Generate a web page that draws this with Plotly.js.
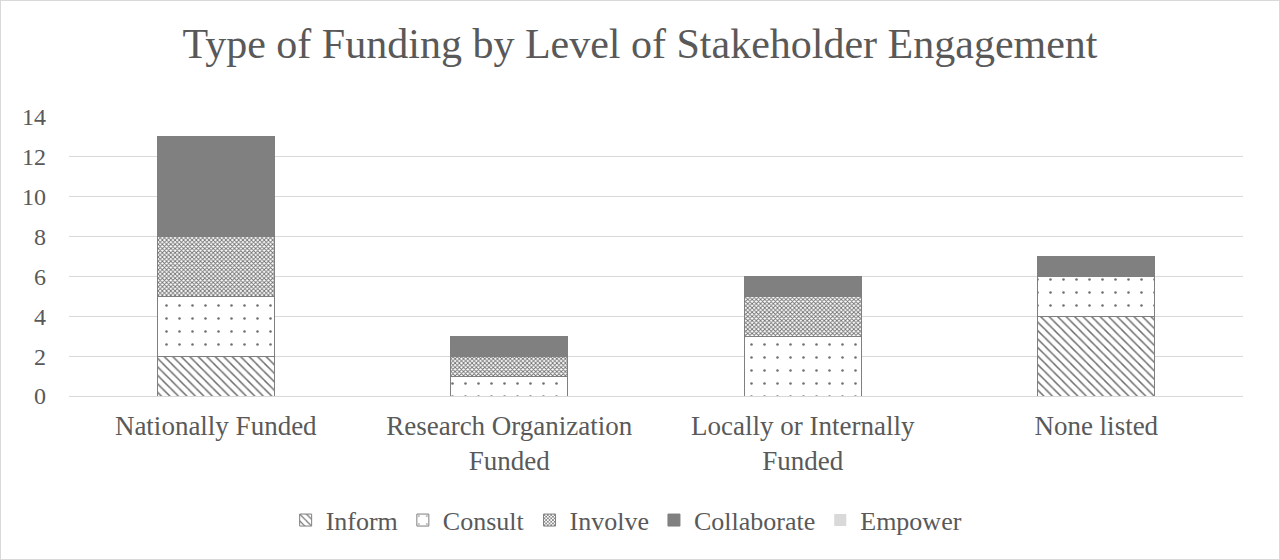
<!DOCTYPE html>
<html>
<head>
<meta charset="utf-8">
<script src="https://cdn.plot.ly/plotly-3.0.1.min.js"></script>
<style>
  body { margin: 0; background: #fff; }
  #chart { width: 1280px; height: 560px; box-sizing: border-box; border: 1px solid #d9d9d9; }
</style>
</head>
<body>
<div id="chart"></div>
<script>
// funding types along the x axis
const categories = ["Nationally Funded", "Research Organization<br>Funded", "Locally or Internally<br>Funded", "None listed"];

// counts per level of engagement
const inform = [2, 0, 0, 4];
const consult = [3, 1, 3, 2];
const involve = [3, 1, 2, 0];
const collaborate = [5, 1, 1, 1];
const empower = [0, 0, 0, 0];

const yTicks = [0, 2, 4, 6, 8, 10, 12, 14];

const edge = { color: "#7f7f7f", width: 1 };

function series(name, vals, marker) {
  return {
    type: "bar",
    name: name,
    x: categories,
    y: vals,
    width: 0.4,
    marker: Object.assign({ line: edge }, marker),
    hoverinfo: "y+name",
  };
}

const data = [
  series("Inform", inform, {
    color: "#ffffff",
    pattern: { shape: "\\", fgcolor: "#6f6f6f", bgcolor: "#ffffff", size: 6, solidity: 0.25 },
  }),
  series("Consult", consult, {
    color: "#ffffff",
    pattern: { shape: ".", fgcolor: "#6f6f6f", bgcolor: "#ffffff", size: 13, solidity: 0.03 },
  }),
  series("Involve", involve, {
    color: "#ffffff",
    pattern: { shape: "x", fgcolor: "#6f6f6f", bgcolor: "#ffffff", size: 3, solidity: 0.5 },
  }),
  series("Collaborate", collaborate, { color: "#808080" }),
  series("Empower", empower, { color: "#d9d9d9", line: { color: "#d9d9d9", width: 0 } }),
];

const serif = "Liberation Serif, Times New Roman, serif";

const layout = {
  width: 1278,
  height: 558,
  barmode: "stack",
  paper_bgcolor: "#ffffff",
  plot_bgcolor: "#ffffff",
  margin: { l: 68, r: 36, t: 116, b: 163 },
  font: { family: serif, color: "#595959", size: 26 },
  title: {
    text: "Type of Funding by Level of Stakeholder Engagement",
    font: { family: serif, size: 42, color: "#595959" },
    x: 0.5,
    xanchor: "center",
    y: 0.925,
    yanchor: "middle",
  },
  xaxis: {
    showgrid: false,
    zeroline: false,
    showline: false,
    ticks: "",
    tickfont: { size: 27 },
    ticklabelstandoff: 11,
  },
  yaxis: {
    range: [0, 14],
    tickvals: yTicks,
    showgrid: true,
    gridcolor: "#d9d9d9",
    gridwidth: 1,
    zeroline: true,
    zerolinecolor: "#d9d9d9",
    showline: false,
    ticks: "",
    tickfont: { size: 24 },
    ticklabelstandoff: 22,
  },
  showlegend: true,
  legend: {
    orientation: "h",
    x: 0.475,
    xanchor: "center",
    y: -0.445,
    yanchor: "middle",
    font: { size: 26 },
    traceorder: "normal",
    itemwidth: 30,
  },
};

Plotly.newPlot("chart", data, layout, { displayModeBar: false, staticPlot: true });
</script>
</body>
</html>
